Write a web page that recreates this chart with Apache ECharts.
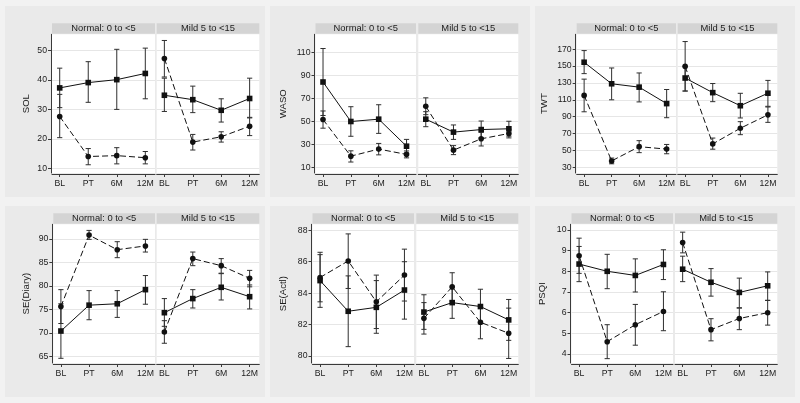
<!DOCTYPE html>
<html><head><meta charset="utf-8">
<script src="https://cdn.jsdelivr.net/npm/echarts@6/dist/echarts.min.js"></script>
<style>html,body{margin:0;padding:0;background:#f2f2f2}#c{width:800px;height:403px}</style>
</head><body><div id="c"></div>
<script>
// ---------- DATA ----------
const categories = ['BL', 'PT', '6M', '12M'];
const facetLabels = ['Normal: 0 to <5', 'Mild 5 to <15'];
const measureNames = ['SOL', 'WASO', 'TWT', 'SE(Diary)', 'SE(Actl)', 'PSQI'];
// each array: 4 "Normal" values followed by 4 "Mild" values
// sq = solid line / square markers, ci = dashed line / circle markers
const solSq   = [37.3, 39.1, 40.1, 42.2,   34.8, 33.3, 29.7, 33.7];
const solSqLo = [30.6, 32.4, 30.0, 33.6,   29.3, 28.9, 25.7, 27.3];
const solSqHi = [44.0, 46.2, 50.4, 50.8,   40.6, 37.9, 33.6, 40.6];
const solCi   = [27.6, 14.0, 14.3, 13.6,   47.3, 18.9, 20.7, 24.3];
const solCiLo = [20.4, 11.2, 11.5, 11.5,   41.0, 16.2, 18.9, 21.1];
const solCiHi = [35.1, 16.7, 17.0, 15.7,   53.4, 21.5, 22.4, 27.1];
const solTicks = [10, 20, 30, 40, 50];
const solRange = [8.4, 55.5];

const wasoSq   = [84.2, 50.0, 52.0, 28.6,   52.0, 40.8, 43.0, 43.7];
const wasoSqLo = [55.2, 37.2, 39.7, 22.6,   45.5, 34.5, 35.8, 37.3];
const wasoSqHi = [113.2, 62.8, 64.5, 34.5,  58.5, 47.0, 50.4, 50.2];
const wasoCi   = [51.7, 20.0, 26.1, 21.5,   63.1, 25.2, 35.0, 39.6];
const wasoCiLo = [44.2, 14.9, 21.1, 18.5,   55.9, 21.3, 28.8, 35.8];
const wasoCiHi = [59.1, 24.6, 31.0, 24.5,   70.5, 29.1, 40.6, 43.3];
const wasoTicks = [10, 30, 50, 70, 90, 110];
const wasoRange = [5.4, 125.5];

const twtSq   = [154.5, 129.0, 125.0, 105.5,  135.8, 118.5, 103.0, 117.8];
const twtSqLo = [141.0, 110.0, 107.5, 88.8,   120.5, 107.8, 88.5, 102.3];
const twtSqHi = [168.3, 147.7, 141.8, 122.2,  149.8, 129.3, 117.7, 133.0];
const twtCi   = [115.2, 37.6, 54.5, 51.6,     149.6, 57.8, 76.3, 92.2];
const twtCiLo = [95.8, 34.2, 47.4, 46.1,      120.3, 51.5, 68.7, 83.3];
const twtCiHi = [134.5, 41.0, 61.6, 57.1,     179.0, 64.7, 84.1, 101.5];
const twtTicks = [30, 50, 70, 90, 110, 130, 150, 170];
const twtRange = [23.3, 187.6];

const sedSq   = [70.4, 75.9, 76.2, 79.2,   74.3, 77.3, 79.7, 77.7];
const sedSqLo = [64.6, 72.8, 73.3, 76.1,   71.4, 75.3, 77.0, 75.1];
const sedSqHi = [76.2, 79.0, 79.0, 82.2,   77.3, 79.2, 82.6, 80.2];
const sedCi   = [75.6, 90.8, 87.7, 88.5,   70.2, 85.8, 84.3, 81.6];
const sedCiLo = [72.0, 89.9, 86.0, 87.2,   67.8, 84.3, 82.7, 79.8];
const sedCiHi = [79.2, 91.8, 89.4, 89.9,   72.6, 87.2, 85.8, 83.3];
const sedTicks = [65, 70, 75, 80, 85, 90];
const sedRange = [63.6, 93.1];

const seaSq   = [84.8, 82.85, 83.1, 84.2,   82.8, 83.4, 83.15, 82.3];
const seaSqLo = [83.1, 80.6, 81.45, 82.35,  81.7, 82.4, 82.05, 81.0];
const seaSqHi = [86.45, 85.1, 84.8, 86.0,   83.9, 84.4, 84.25, 83.6];
const seaCi   = [85.0, 86.05, 83.45, 85.15, 82.4, 84.4, 82.15, 81.45];
const seaCiLo = [83.45, 84.3, 81.75, 83.5,  81.4, 83.5, 81.1, 79.85];
const seaCiHi = [86.6, 87.77, 85.15, 86.8,  83.4, 85.3, 83.2, 83.05];
const seaTicks = [80, 82, 84, 86, 88];
const seaRange = [79.56, 88.38];

const psqiSq   = [8.35, 8.0, 7.8, 8.33,   8.1, 7.47, 6.98, 7.3];
const psqiSqLo = [7.5, 7.16, 7.0, 7.6,    7.5, 6.8, 6.24, 6.6];
const psqiSqHi = [9.2, 8.82, 8.6, 9.04,   8.73, 8.13, 7.67, 7.97];
const psqiCi   = [8.75, 4.6, 5.42, 6.06,  9.39, 5.18, 5.72, 6.0];
const psqiCiLo = [7.9, 3.78, 4.43, 5.13,  8.89, 4.64, 5.18, 5.4];
const psqiCiHi = [9.6, 5.42, 6.4, 7.01,   9.89, 5.71, 6.22, 6.59];
const psqiTicks = [4, 5, 6, 7, 8, 9, 10];
const psqiRange = [3.57, 10.27];

const xTickValues = [1, 2, 3, 4];

const panels = [
  {sq: solSq, sqLo: solSqLo, sqHi: solSqHi, ci: solCi, ciLo: solCiLo, ciHi: solCiHi, ticks: solTicks, range: solRange},
  {sq: wasoSq, sqLo: wasoSqLo, sqHi: wasoSqHi, ci: wasoCi, ciLo: wasoCiLo, ciHi: wasoCiHi, ticks: wasoTicks, range: wasoRange},
  {sq: twtSq, sqLo: twtSqLo, sqHi: twtSqHi, ci: twtCi, ciLo: twtCiLo, ciHi: twtCiHi, ticks: twtTicks, range: twtRange},
  {sq: sedSq, sqLo: sedSqLo, sqHi: sedSqHi, ci: sedCi, ciLo: sedCiLo, ciHi: sedCiHi, ticks: sedTicks, range: sedRange},
  {sq: seaSq, sqLo: seaSqLo, sqHi: seaSqHi, ci: seaCi, ciLo: seaCiLo, ciHi: seaCiHi, ticks: seaTicks, range: seaRange},
  {sq: psqiSq, sqLo: psqiSqLo, sqHi: psqiSqHi, ci: psqiCi, ciLo: psqiCiLo, ciHi: psqiCiHi, ticks: psqiTicks, range: psqiRange}
];

// ---------- LAYOUT (pixels) ----------
const layout = [
  {f: [[52, 155], [156.7, 259.3]], row: 0, gap: 19.5},
  {f: [[315.5, 416], [418.3, 518.3]], row: 0, gap: 26},
  {f: [[576.7, 676], [677.7, 777.3]], row: 0, gap: 26},
  {f: [[53.3, 155], [156.7, 259.3]], row: 1, gap: 20.5},
  {f: [[312.5, 414], [416.3, 518.3]], row: 1, gap: 23},
  {f: [[571.5, 673], [675, 777.3]], row: 1, gap: 23.5}
];
const rowTop = [34.3, 224.3];
const plotH = 138.7;
const headerH = 11;

const FONT = "'Liberation Sans', Arial, sans-serif";
const TXT = '#1c1c1c';
const AX = '#3a3a3a';
const ERR = '#2f2f2f';
const LINE = '#111';

const grids = [], xAxes = [], yAxes = [], series = [], graphics = [];

// panel backgrounds
for (let r = 0; r < 2; r++) for (let c = 0; c < 3; c++) {
  graphics.push({type: 'rect', z: -100, silent: true,
    shape: {x: 5 + c * 265, y: 6 + r * 200, width: 260, height: 191},
    style: {fill: '#eaeaea'}});
}

function errRender(params, api) {
  const x = api.value(0), lo = api.value(1), hi = api.value(2);
  const a = api.coord([x, lo]), b = api.coord([x, hi]);
  const w = 2.6;
  const style = {stroke: ERR, lineWidth: 1, fill: null};
  return {type: 'group', children: [
    {type: 'line', shape: {x1: a[0], y1: a[1], x2: b[0], y2: b[1]}, style},
    {type: 'line', shape: {x1: a[0] - w, y1: a[1], x2: a[0] + w, y2: a[1]}, style},
    {type: 'line', shape: {x1: b[0] - w, y1: b[1], x2: b[0] + w, y2: b[1]}, style}
  ]};
}

panels.forEach((p, pi) => {
  const L = layout[pi];
  const top = rowTop[L.row];
  for (let f = 0; f < 2; f++) {
    const gi = grids.length;
    const x0 = L.f[f][0], x1 = L.f[f][1];
    grids.push({left: x0, top: top, width: x1 - x0, height: plotH,
      show: true, backgroundColor: '#ffffff', borderWidth: 0, containLabel: false});
    // header strip
    graphics.push({type: 'rect', z: 5, silent: true,
      shape: {x: x0, y: top - headerH, width: x1 - x0, height: headerH - 0.5},
      style: {fill: '#d4d4d4'}});
    graphics.push({type: 'text', z: 6, silent: true,
      x: (x0 + x1) / 2, y: top - headerH / 2 - 0.2,
      style: {text: facetLabels[f], fill: TXT, font: '9.4px ' + FONT, align: 'center', verticalAlign: 'middle'}});

    xAxes.push({type: 'value', gridIndex: gi, min: 0.73, max: 4.34, offset: 1,
      axisLine: {show: true, onZero: false, lineStyle: {color: AX, width: 1}},
      axisTick: {show: true, length: 3, customValues: xTickValues, lineStyle: {color: AX}},
      axisLabel: {customValues: xTickValues, formatter: v => categories[Math.round(v) - 1],
        color: TXT, fontSize: 8.7, fontFamily: FONT, margin: 5},
      splitLine: {show: false}});
    yAxes.push({type: 'value', gridIndex: gi, min: p.range[0], max: p.range[1], offset: 1,
      axisLine: {show: f === 0, onZero: false, lineStyle: {color: AX, width: 1}},
      axisTick: {show: f === 0, length: 3, customValues: p.ticks, lineStyle: {color: AX}},
      axisLabel: {show: f === 0, customValues: p.ticks, color: TXT, fontSize: 8.7, fontFamily: FONT, margin: 4},
      splitLine: {show: true, lineStyle: {color: '#e6e6e6', width: 1}},
      name: f === 0 ? measureNames[pi] : '', nameLocation: 'middle', nameGap: L.gap,
      nameTextStyle: {color: TXT, fontSize: 9.6, fontFamily: FONT}});

    const idx = [0, 1, 2, 3].map(k => k + f * 4);
    series.push({type: 'custom', xAxisIndex: gi, yAxisIndex: gi, renderItem: errRender, z: 2,
      encode: {x: 0, y: [1, 2]}, clip: false,
      data: idx.map((k, j) => [xTickValues[j], p.sqLo[k], p.sqHi[k]])});
    series.push({type: 'custom', xAxisIndex: gi, yAxisIndex: gi, renderItem: errRender, z: 2,
      encode: {x: 0, y: [1, 2]}, clip: false,
      data: idx.map((k, j) => [xTickValues[j], p.ciLo[k], p.ciHi[k]])});
    series.push({type: 'line', xAxisIndex: gi, yAxisIndex: gi, z: 3,
      symbol: 'rect', symbolSize: 5.6, showSymbol: true,
      lineStyle: {color: LINE, width: 1, type: 'solid'}, itemStyle: {color: LINE},
      data: idx.map((k, j) => [xTickValues[j], p.sq[k]])});
    series.push({type: 'line', xAxisIndex: gi, yAxisIndex: gi, z: 3,
      symbol: 'circle', symbolSize: 5.6, showSymbol: true,
      lineStyle: {color: LINE, width: 1, type: [6, 3]}, itemStyle: {color: LINE},
      data: idx.map((k, j) => [xTickValues[j], p.ci[k]])});
  }
});

const chart = echarts.init(document.getElementById('c'), null, {renderer: 'canvas'});
chart.setOption({
  animation: false,
  backgroundColor: 'transparent',
  grid: grids, xAxis: xAxes, yAxis: yAxes, series: series,
  graphic: {elements: graphics}
});
</script></body></html>
